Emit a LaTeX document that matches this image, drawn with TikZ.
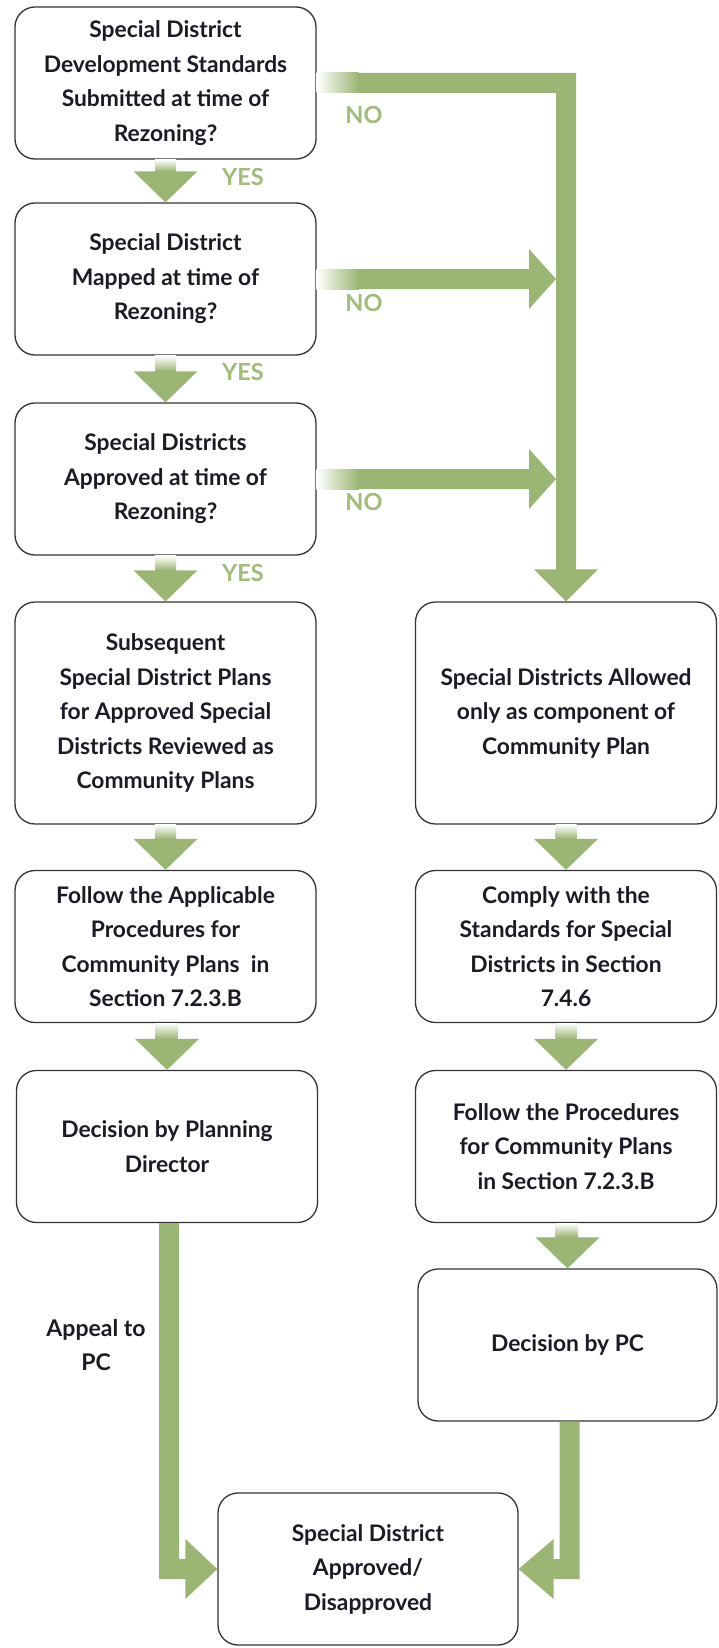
\documentclass[tikz,border=0pt]{standalone}
\usepackage{fontspec}
\setmainfont{Lato}
\usetikzlibrary{calc}
\definecolor{grn}{RGB}{155,181,116}
\definecolor{lbl}{RGB}{160,187,122}
\definecolor{txt}{RGB}{28,26,36}
\tikzset{
  box/.style={draw=black!80, line width=1.3pt, rounded corners=20pt, fill=white,
    minimum width=301pt, minimum height=152pt, inner sep=0pt, align=center,
    text=txt, font=\bfseries\fontsize{22.8}{34.5}\selectfont},
  tall/.style={minimum height=222pt},
  yn/.style={text=lbl, font=\bfseries\fontsize{23.5}{25}\selectfont, inner sep=0pt},
  plain/.style={text=txt, align=center, font=\bfseries\fontsize{23}{34.5}\selectfont, inner sep=0pt}
}
\newcommand\dnarrow[2]{%
  \shade[top color=white,bottom color=grn] ($(#1.south)+(-10.5,0)$) rectangle ($(#2.north)+(10.5,-31)$);
  \fill[grn] ($(#2.north)+(-32,-31)$) -- ($(#2.north)+(32,-31)$) -- (#2.north) -- cycle;
}
\newcommand\noarrow[1]{%
  \shade[left color=white,right color=grn] ($(#1.east)+(0,-10)$) rectangle ($(#1.east)+(42,10)$);
  \fill[grn] ($(#1.east)+(41,-10)$) -- ($(R1.north |- #1.east)+(-37,-10)$) -- ($(R1.north |- #1.east)+(-37,-30)$)
    -- ($(R1.north |- #1.east)+(-10,0)$) -- ($(R1.north |- #1.east)+(-37,30)$) -- ($(R1.north |- #1.east)+(-37,10)$)
    -- ($(#1.east)+(41,10)$) -- cycle;
}
\begin{document}
\begin{tikzpicture}[x=1pt,y=-1pt]
\useasboundingbox (0,0) rectangle (719,1648);
% left column
\node[box] (L1) at (165.5,83) {Special District\\Development Standards\\Submitted at time of\\Rezoning?};
\node[box] (L2) at (165.5,279) {Special District\\Mapped at time of\\Rezoning?};
\node[box] (L3) at (165.5,479) {Special Districts\\Approved at time of\\Rezoning?};
\node[box,tall] (L4) at (165.5,713) {Subsequent\\Special District Plans\\for Approved Special\\Districts Reviewed as\\Community Plans};
\node[box] (L5) at (165.5,946.5) {Follow the Applicable\\Procedures for\\Community Plans\ \ in\\Section 7.2.3.B};
\node[box] (L6) at (167,1146.5) {Decision by Planning\\Director};
% right column
\node[box,tall] (R1) at (566,713) {Special Districts Allowed\\only as component of\\Community Plan};
\node[box] (R2) at (566,946.5) {Comply with the\\Standards for Special\\Districts in Section\\7.4.6};
\node[box] (R3) at (566,1146.5) {Follow the Procedures\\for Community Plans\\in Section 7.2.3.B};
\node[box,minimum width=299pt] (R4) at (567.5,1345) {Decision by PC};
% bottom
\node[box,minimum width=300pt] (B) at (368,1569) {Special District\\Approved/\\Disapproved};
% down arrows
\dnarrow{L1}{L2}
\dnarrow{L2}{L3}
\dnarrow{L3}{L4}
\dnarrow{L4}{L5}
\dnarrow{L5}{L6}
\dnarrow{R1}{R2}
\dnarrow{R2}{R3}
\dnarrow{R3}{R4}
% main NO path
\shade[left color=white,right color=grn] ($(L1.east)+(0,-10)$) rectangle ($(L1.east)+(42,10)$);
\fill[grn] ($(L1.east)+(41,-10)$) -- ($(R1.north |- L1.east)+(10,-10)$) -- ($(R1.north)+(10,-32)$)
  -- ($(R1.north)+(32,-32)$) -- (R1.north) -- ($(R1.north)+(-32,-32)$) -- ($(R1.north)+(-10,-32)$)
  -- ($(R1.north |- L1.east)+(-10,10)$) -- ($(L1.east)+(41,10)$) -- cycle;
\noarrow{L2}
\noarrow{L3}
% bottom connectors
\fill[grn] ($(L6.south)+(-8,0)$) -- ($(L6.south |- B.west)+(-8,10)$) -- ($(B.west)+(-32,10)$)
  -- ($(B.west)+(-32,30)$) -- (B.west) -- ($(B.west)+(-32,-30)$) -- ($(B.west)+(-32,-10)$)
  -- ($(L6.south |- B.west)+(12,-10)$) -- ($(L6.south)+(12,0)$) -- cycle;
\fill[grn] ($(R4.south)+(12,0)$) -- ($(R4.south |- B.east)+(12,10)$) -- ($(B.east)+(35,10)$)
  -- ($(B.east)+(35,30)$) -- (B.east) -- ($(B.east)+(35,-30)$) -- ($(B.east)+(35,-10)$)
  -- ($(R4.south |- B.east)+(-8,-10)$) -- ($(R4.south)+(-8,0)$) -- cycle;
% labels
\node[yn] (no1) at (364,115) {NO};
\node[yn] (no2) at (364,303) {NO};
\node[yn] (no3) at (364,502) {NO};
\node[yn] (yes1) at (243,177) {YES};
\node[yn] (yes2) at (243,372) {YES};
\node[yn] (yes3) at (243,573) {YES};
\node[plain] (appeal) at (96,1345) {Appeal to\\PC};
\end{tikzpicture}
\end{document}
